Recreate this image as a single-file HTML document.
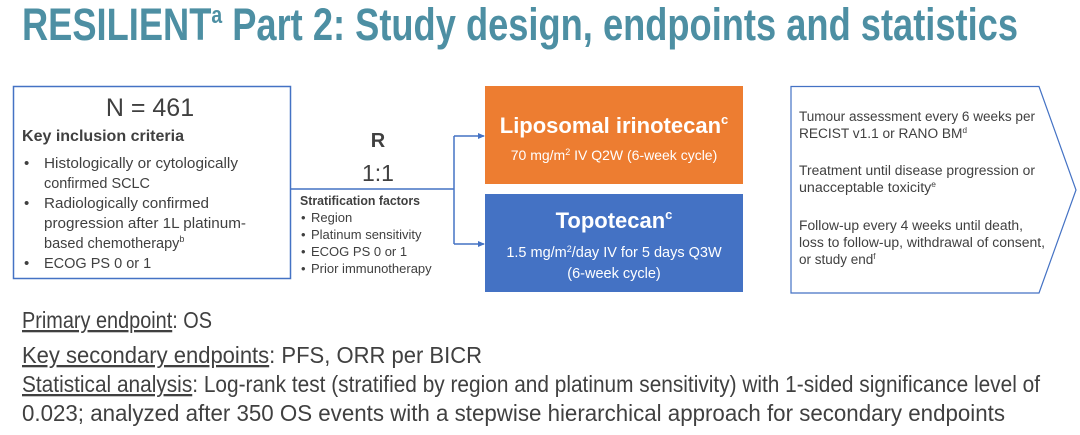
<!DOCTYPE html>
<html><head><meta charset="utf-8"><style>
html,body{margin:0;padding:0;background:#fff;width:1080px;height:435px;overflow:hidden}
svg{display:block}
text{font-family:"Liberation Sans",sans-serif}
</style></head><body>
<svg width="1080" height="435" viewBox="0 0 1080 435">
<defs><marker id="a" markerWidth="8" markerHeight="8" refX="6" refY="4" orient="auto" markerUnits="userSpaceOnUse"><path d="M0,1 L7,4 L0,7z" fill="#4472C4"/></marker></defs>
<text x="22" y="40" font-size="45" font-weight="bold" fill="#4D8FA3" textLength="996" lengthAdjust="spacingAndGlyphs">RESILIENT<tspan font-size="24" dy="-17">a</tspan><tspan dy="17"> Part 2: Study design, endpoints and statistics</tspan></text>

<rect x="13.5" y="86.5" width="277" height="192" fill="#fff" stroke="#4472C4" stroke-width="1.5"/>
<g fill="#404040">
<text x="150" y="116" font-size="25" text-anchor="middle">N = 461</text>
<text x="22" y="141" font-size="16" font-weight="bold" textLength="162" lengthAdjust="spacingAndGlyphs">Key inclusion criteria</text>
<g font-size="15">
<text x="24" y="168">•</text><text x="44" y="168" textLength="194" lengthAdjust="spacingAndGlyphs">Histologically or cytologically</text>
<text x="44" y="188" textLength="106" lengthAdjust="spacingAndGlyphs">confirmed SCLC</text>
<text x="24" y="208">•</text><text x="44" y="208" textLength="165" lengthAdjust="spacingAndGlyphs">Radiologically confirmed</text>
<text x="44" y="228" textLength="202" lengthAdjust="spacingAndGlyphs">progression after 1L platinum-</text>
<text x="44" y="248" font-size="14.5">based chemotherapy<tspan font-size="9" dy="-6">b</tspan></text>
<text x="24" y="268">•</text><text x="44" y="268" font-size="14.5">ECOG PS 0 or 1</text>
</g>
<text x="378" y="147" font-size="20" font-weight="bold" text-anchor="middle">R</text>
<text x="378" y="181" font-size="23" text-anchor="middle">1:1</text>
<text x="300" y="205" font-size="12.5" font-weight="bold" textLength="120" lengthAdjust="spacingAndGlyphs">Stratification factors</text>
<g font-size="13">
<text x="301" y="222">•</text><text x="311" y="222">Region</text>
<text x="301" y="239">•</text><text x="311" y="239">Platinum sensitivity</text>
<text x="301" y="256">•</text><text x="311" y="256">ECOG PS 0 or 1</text>
<text x="301" y="273">•</text><text x="311" y="273">Prior immunotherapy</text>
</g>
</g>
<g stroke="#4472C4" stroke-width="1.5" fill="none">
<path d="M290,189 H454"/>
<path d="M454,136 V244"/>
<path d="M454,136 H484" marker-end="url(#a)"/>
<path d="M454,244 H484" marker-end="url(#a)"/>
</g>

<rect x="485" y="86" width="258" height="98" fill="#ED7D31"/>
<text x="614" y="133" font-size="22" font-weight="bold" fill="#fff" text-anchor="middle">Liposomal irinotecan<tspan font-size="13" dy="-9">c</tspan></text>
<text x="614" y="160" font-size="14" fill="#fff" text-anchor="middle">70 mg/m<tspan font-size="9" dy="-5">2</tspan><tspan dy="5"> IV Q2W (6-week cycle)</tspan></text>

<rect x="485" y="194" width="258" height="98" fill="#4472C4"/>
<text x="614" y="228" font-size="22" font-weight="bold" fill="#fff" text-anchor="middle">Topotecan<tspan font-size="13" dy="-9">c</tspan></text>
<text x="614" y="257" font-size="14.5" fill="#fff" text-anchor="middle">1.5 mg/m<tspan font-size="9" dy="-5">2</tspan><tspan dy="5">/day IV for 5 days Q3W</tspan></text>
<text x="614" y="278" font-size="14.5" fill="#fff" text-anchor="middle">(6-week cycle)</text>

<path d="M791,86.5 H1039 L1076,190 L1039,293 H791 Z" fill="#fff" stroke="#4472C4" stroke-width="1.2"/>
<g font-size="13.5" fill="#404040">
<text x="799" y="121" textLength="236" lengthAdjust="spacingAndGlyphs">Tumour assessment every 6 weeks per</text>
<text x="799" y="138" textLength="168" lengthAdjust="spacingAndGlyphs">RECIST v1.1 or RANO BM<tspan font-size="8" dy="-5">d</tspan></text>
<text x="799" y="175" textLength="236" lengthAdjust="spacingAndGlyphs">Treatment until disease progression or</text>
<text x="799" y="192" textLength="137" lengthAdjust="spacingAndGlyphs">unacceptable toxicity<tspan font-size="8" dy="-5">e</tspan></text>
<text x="799" y="230" textLength="224" lengthAdjust="spacingAndGlyphs">Follow-up every 4 weeks until death,</text>
<text x="799" y="247" textLength="246" lengthAdjust="spacingAndGlyphs">loss to follow-up, withdrawal of consent,</text>
<text x="799" y="264">or study end<tspan font-size="8" dy="-5">f</tspan></text>
</g>

<g font-size="23" fill="#404040">
<text x="22" y="328" textLength="190" lengthAdjust="spacingAndGlyphs"><tspan text-decoration="underline">Primary endpoint</tspan>: OS</text>
<text x="22" y="363" textLength="460" lengthAdjust="spacingAndGlyphs"><tspan text-decoration="underline">Key secondary endpoints</tspan>: PFS, ORR per BICR</text>
<text x="22" y="392" textLength="1018" lengthAdjust="spacingAndGlyphs"><tspan text-decoration="underline">Statistical analysis</tspan>: Log-rank test (stratified by region and platinum sensitivity) with 1-sided significance level of</text>
<text x="22" y="421" textLength="983" lengthAdjust="spacingAndGlyphs">0.023; analyzed after 350 OS events with a stepwise hierarchical approach for secondary endpoints</text>
</g>
</svg>
</body></html>
